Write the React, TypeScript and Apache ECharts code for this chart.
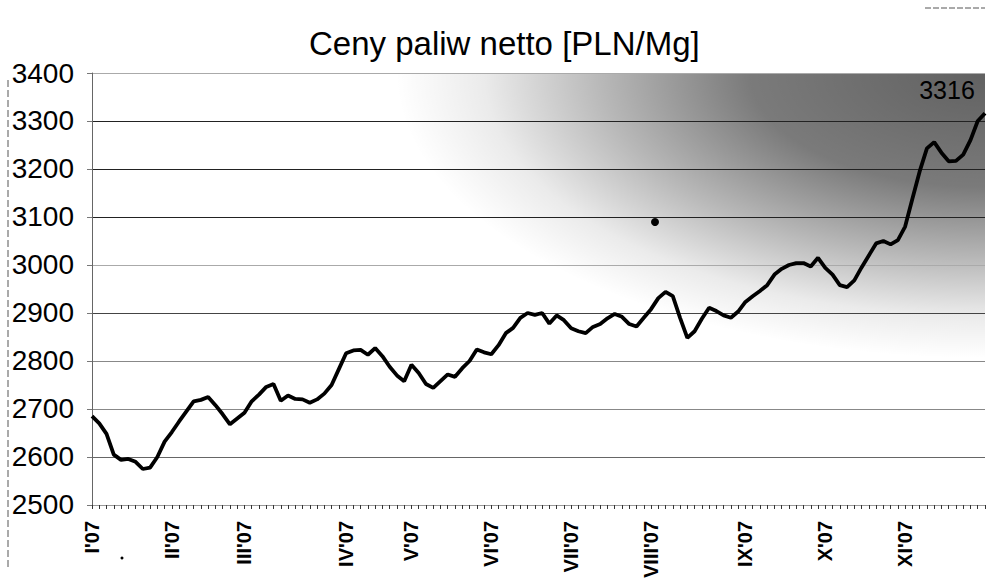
import React, { useEffect, useRef } from "react";
import * as echarts from "echarts";

const TITLE = "Ceny paliw netto [PLN/Mg]";
const MONTHS = ["I'07", "II'07", "III'07", "IV'07", "V'07", "VI'07", "VII'07", "VIII'07", "IX'07", "X'07", "XI'07"];
// number of sampled points falling in each month
const POINTS_PER_MONTH = [11, 10, 14, 9, 11, 11, 11, 13, 11, 11, 12];
const Y_MIN = 2500;
const Y_MAX = 3400;
const Y_STEP = 100;

const PRICES = [
  2685, 2670, 2648, 2605, 2594, 2596, 2590, 2575, 2578, 2600, 2632,
  2652, 2674, 2695, 2716, 2719, 2725, 2708, 2689, 2668, 2680,
  2692, 2716, 2730, 2746, 2752, 2717, 2728, 2721, 2720, 2713, 2720, 2732, 2750, 2783,
  2816, 2822, 2823, 2813, 2827, 2810, 2788, 2770, 2758,
  2792, 2775, 2752, 2744, 2758, 2772, 2767, 2785, 2800, 2824, 2818,
  2814, 2833, 2858, 2869, 2890, 2900, 2896, 2900, 2878, 2895, 2885,
  2868, 2862, 2858, 2871, 2877, 2889, 2898, 2892, 2877, 2872, 2890,
  2908, 2931, 2944, 2935, 2890, 2848, 2862, 2888, 2911, 2904, 2895, 2890, 2903,
  2923, 2935, 2946, 2958, 2980, 2992, 3000, 3004, 3004, 2997, 3015,
  2994, 2980, 2958, 2954, 2968, 2995, 3020, 3045, 3050, 3043, 3052,
  3080, 3138, 3195, 3243, 3256, 3234, 3216, 3217, 3230, 3260, 3300, 3316,
];

const FONT = "'Liberation Sans', Arial, sans-serif";

export default function App() {
  const ref = useRef<HTMLDivElement>(null);

  useEffect(() => {
    if (!ref.current) return;
    const chart = echarts.init(ref.current, null, { renderer: "svg" });

    const categories: string[] = [];
    MONTHS.forEach((m, mi) => {
      for (let k = 0; k < POINTS_PER_MONTH[mi]; k++) categories.push(`${m}|${k}`);
    });

    const lastIdx = PRICES.length - 1;
    const lastValue = PRICES[lastIdx];

    const gridLeft = 92;
    const gridTop = 73;
    const gridW = 893;
    const gridH = 432;
    const localH = 833;

    chart.setOption({
      animation: false,
      backgroundColor: "#fff",
      title: {
        text: TITLE,
        left: 309,
        top: 27,
        padding: 0,
        textStyle: { fontFamily: FONT, fontSize: 33, fontWeight: "normal", color: "#000" },
      },
      grid: { left: gridLeft, top: gridTop, right: 987 - gridLeft - gridW, bottom: 581 - gridTop - gridH },
      graphic: [
        {
          type: "rect",
          x: gridLeft,
          y: gridTop,
          scaleY: gridH / localH,
          z: -10,
          silent: true,
          shape: { x: 0, y: 0, width: gridW, height: localH },
          style: {
            fill: new echarts.graphic.RadialGradient(1, 0, 0.66, [
              { offset: 0, color: "rgba(0,0,0,0.62)" },
              { offset: 0.4, color: "rgba(0,0,0,0.52)" },
              { offset: 0.65, color: "rgba(0,0,0,0.28)" },
              { offset: 0.85, color: "rgba(0,0,0,0.08)" },
              { offset: 1, color: "rgba(0,0,0,0)" },
            ]),
          },
        },
        {
          type: "line",
          silent: true,
          shape: { x1: 8, y1: 80, x2: 8, y2: 568 },
          style: { stroke: "#555", lineWidth: 1, lineDash: [7, 3] },
        },
        {
          type: "line",
          silent: true,
          shape: { x1: 925, y1: 8, x2: 985, y2: 8 },
          style: { stroke: "#555", lineWidth: 1, lineDash: [6, 2] },
        },
        {
          type: "circle",
          silent: true,
          shape: { cx: 655, cy: 222, r: 4 },
          style: { fill: "#000" },
        },
        {
          type: "circle",
          silent: true,
          shape: { cx: 122, cy: 558, r: 1.5 },
          style: { fill: "#000" },
        },
      ],
      xAxis: {
        type: "category",
        data: categories,
        boundaryGap: false,
        axisLine: { show: true, lineStyle: { color: "#999", width: 1 } },
        axisTick: { show: true, interval: 0, length: 4, lineStyle: { color: "#333" } },
        axisLabel: {
          interval: (index: number, value: string) => value.endsWith("|0"),
          formatter: (value: string) => value.split("|")[0],
          rotate: 90,
          margin: 16,
          fontSize: 20,
          fontWeight: "bold",
          fontFamily: FONT,
          color: "#000",
        },
        splitLine: { show: false },
      },
      yAxis: {
        type: "value",
        min: Y_MIN,
        max: Y_MAX,
        interval: Y_STEP,
        axisLine: { show: true, lineStyle: { color: "#666", width: 1 } },
        axisTick: { show: true, length: 5, lineStyle: { color: "#777" } },
        axisLabel: {
          fontSize: 28,
          fontFamily: FONT,
          color: "#000",
          margin: 18,
          formatter: (v: number) => String(v),
        },
        splitLine: {
          show: true,
          lineStyle: {
            color: ["#aaa", "#666", "#888", "#888", "#444", "#aaa", "#222", "#222", "#222", "#aaa"],
            width: 1,
          },
        },
      },
      series: [
        {
          type: "line",
          data: PRICES,
          symbol: "none",
          smooth: false,
          z: 5,
          lineStyle: { color: "#000", width: 3.8 },
          markPoint: {
            symbol: "circle",
            symbolSize: 1,
            itemStyle: { color: "rgba(0,0,0,0)" },
            data: [{ coord: [lastIdx, lastValue], value: lastValue }],
            label: {
              show: true,
              position: "top",
              distance: 4,
              offset: [-38, -6],
              formatter: String(lastValue),
              fontSize: 25,
              fontFamily: FONT,
              color: "#000",
            },
          },
        },
      ],
    });

    return () => chart.dispose();
  }, []);

  return <div ref={ref} style={{ width: 987, height: 581, position: "absolute", left: 0, top: 0 }} />;
}
